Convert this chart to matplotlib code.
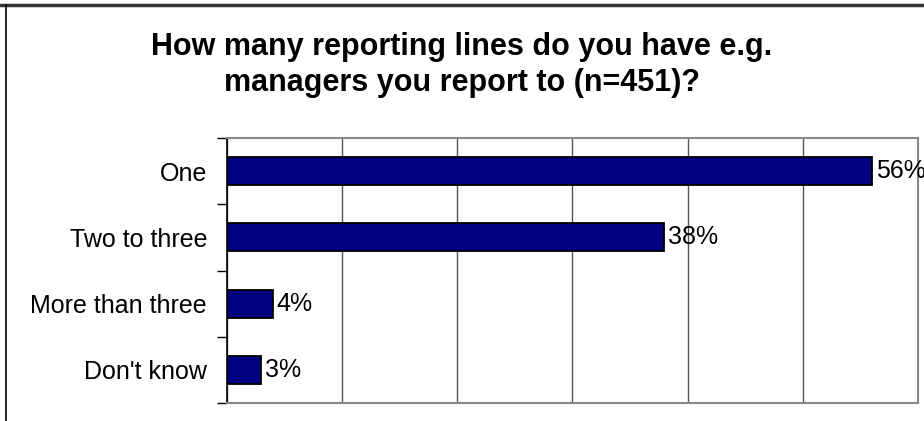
import numpy as np
import matplotlib.pyplot as plt
from matplotlib.lines import Line2D

# survey answers, top to bottom
answers = ["One", "Two to three", "More than three", "Don't know"]
share = [56, 38, 4, 3]  # percent of respondents

plt.rcParams['font.family'] = ['Liberation Sans', 'DejaVu Sans']

fig = plt.figure(figsize=(9.24, 4.21), dpi=100)
ax = fig.add_axes([226.5/924, 1 - 403/421, (918 - 226.5)/924, (403 - 138)/421])

pos = np.arange(len(answers))
ax.barh(pos, share, height=0.42, color='#000080', edgecolor='black', linewidth=1.3, zorder=3)

for p, v in zip(pos, share):
    ax.text(v + 0.35, p, f"{v}%", va='center', ha='left', fontsize=18, zorder=4, clip_on=False)

ax.set_xlim(0, 60)
ax.set_ylim(len(answers) - 0.5, -0.5)

# vertical gridlines every 10%
ax.set_xticks(np.arange(0, 61, 10))
ax.xaxis.grid(True, color='#555555', linewidth=1.0, zorder=0)
ax.tick_params(axis='x', length=0, labelbottom=False)

# category names in the middle, tick marks on the boundaries
ax.set_yticks(pos)
ax.set_yticklabels(answers, fontsize=18)
ax.set_yticks(np.arange(-0.5, len(answers)), minor=True)
ax.tick_params(axis='y', which='major', length=0, pad=14)
ax.tick_params(axis='y', which='minor', length=7, width=1.0, color='black', direction='out')

for side in ['top', 'right', 'bottom']:
    ax.spines[side].set_color('#888888')
    ax.spines[side].set_linewidth(1.5)
ax.spines['left'].set_color('black')
ax.spines['left'].set_linewidth(1.2)

fig.text(0.5, 1 - 65/421, "How many reporting lines do you have e.g.\nmanagers you report to (n=451)?",
         ha='center', va='center', fontsize=22, fontweight='bold', linespacing=1.3)

# outer chart border (top and left edges)
fig.add_artist(Line2D([0, 1], [1 - 4.5/421, 1 - 4.5/421], color='#333333', linewidth=2.5, transform=fig.transFigure))
fig.add_artist(Line2D([6/924, 6/924], [0, 1 - 4.5/421], color='black', linewidth=1.2, transform=fig.transFigure))

fig.savefig('out.png', dpi=100)
